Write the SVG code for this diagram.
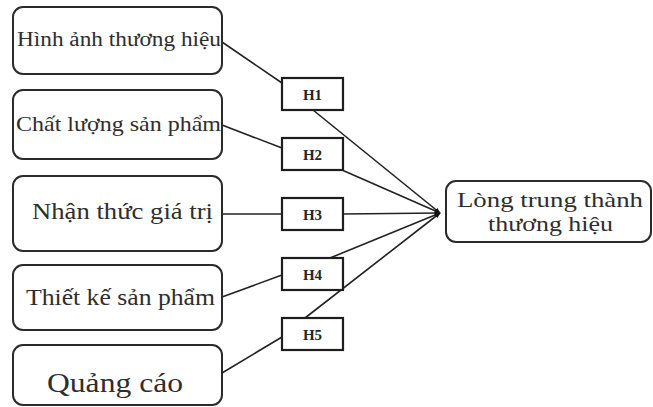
<svg xmlns="http://www.w3.org/2000/svg" width="653" height="407" viewBox="0 0 653 407">
<style>
.box{fill:#fff;stroke:#2b2b2b;stroke-width:2}
.hb{fill:#fff;stroke:#1e1e1e;stroke-width:2.2}
.t{font-family:"Liberation Serif","Times New Roman",serif;fill:#2e2e2e}
.h{font-family:"Liberation Serif","Times New Roman",serif;font-weight:bold;font-size:15px;fill:#262626;text-anchor:middle}
.c{stroke:#222;stroke-width:1.6;fill:none}
</style>
<defs>
<marker id="ah" viewBox="0 0 10 10" refX="9" refY="5" markerWidth="6" markerHeight="6" markerUnits="userSpaceOnUse" orient="auto">
<path d="M0,1 L10,5 L0,9 Z" fill="#111"/>
</marker>
</defs>
<rect width="653" height="407" fill="#fff"/>
<g id="connectors">
<line class="c" x1="222" y1="42" x2="282" y2="83"/>
<line class="c" x1="313" y1="110" x2="440" y2="213" marker-end="url(#ah)"/>
<line class="c" x1="222" y1="125" x2="282" y2="148"/>
<line class="c" x1="342" y1="170" x2="440" y2="213" marker-end="url(#ah)"/>
<line class="c" x1="222" y1="214" x2="282" y2="214"/>
<line class="c" x1="343" y1="214" x2="440" y2="213" marker-end="url(#ah)"/>
<line class="c" x1="222" y1="297" x2="282" y2="275"/>
<line class="c" x1="330" y1="258" x2="440" y2="213" marker-end="url(#ah)"/>
<line class="c" x1="222" y1="373" x2="282" y2="337"/>
<line class="c" x1="305" y1="318" x2="440" y2="213" marker-end="url(#ah)"/>
</g>
<g id="n1">
<rect class="box" x="13" y="7" width="209" height="67" rx="10"/>
<text class="t" x="17" y="46" font-size="20" textLength="204" lengthAdjust="spacingAndGlyphs">Hình ảnh thương hiệu</text>
</g>
<g id="n2">
<rect class="box" x="13" y="90" width="209" height="69" rx="10"/>
<text class="t" x="16" y="131" font-size="21" textLength="205" lengthAdjust="spacingAndGlyphs">Chất lượng sản phẩm</text>
</g>
<g id="n3">
<rect class="box" x="13" y="176" width="209" height="75" rx="10"/>
<text class="t" x="32" y="219" font-size="24" textLength="181" lengthAdjust="spacingAndGlyphs">Nhận thức giá trị</text>
</g>
<g id="n4">
<rect class="box" x="13" y="265" width="209" height="65" rx="10"/>
<text class="t" x="26" y="305" font-size="24" textLength="189" lengthAdjust="spacingAndGlyphs">Thiết kế sản phẩm</text>
</g>
<g id="n5">
<rect class="box" x="13" y="345" width="209" height="60" rx="10"/>
<text class="t" x="47" y="392" font-size="27" textLength="136" lengthAdjust="spacingAndGlyphs">Quảng cáo</text>
</g>
<g id="h1"><rect class="hb" x="282" y="78" width="61" height="32"/><text class="h" x="312.5" y="99.5">H1</text></g>
<g id="h2"><rect class="hb" x="282" y="138" width="61" height="32"/><text class="h" x="312.5" y="159.5">H2</text></g>
<g id="h3"><rect class="hb" x="282" y="198" width="61" height="32"/><text class="h" x="312.5" y="219.5">H3</text></g>
<g id="h4"><rect class="hb" x="282" y="258" width="61" height="32"/><text class="h" x="312.5" y="279.5">H4</text></g>
<g id="h5"><rect class="hb" x="282" y="318" width="61" height="32"/><text class="h" x="312.5" y="339.5">H5</text></g>
<g id="target">
<rect class="box" x="446" y="181" width="205" height="61" rx="10"/>
<text class="t" x="457" y="207" font-size="22" textLength="186" lengthAdjust="spacingAndGlyphs">Lòng trung thành</text>
<text class="t" x="488" y="231" font-size="22" textLength="125" lengthAdjust="spacingAndGlyphs">thương hiệu</text>
</g>
</svg>
